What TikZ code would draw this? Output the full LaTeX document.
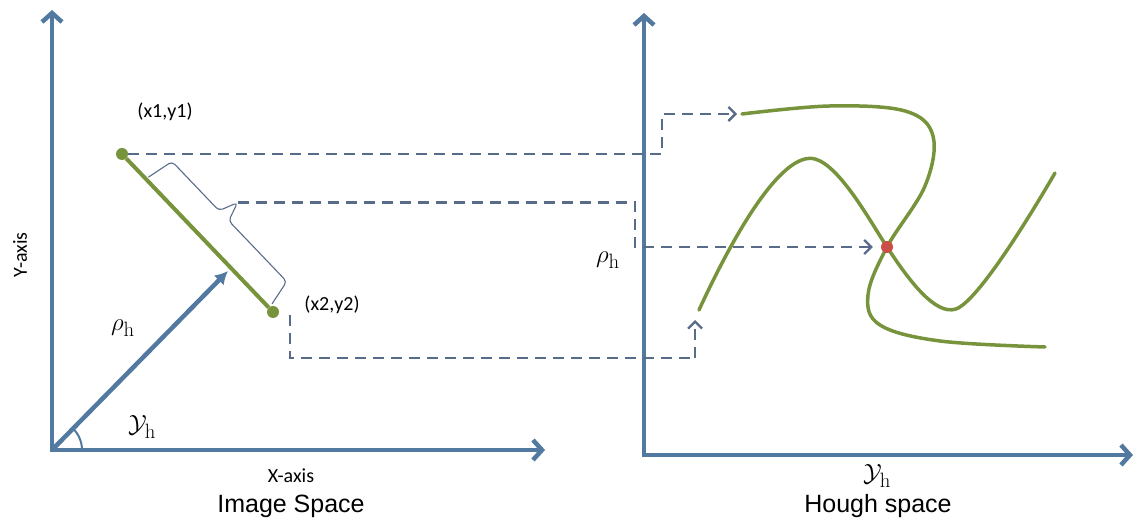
\documentclass[tikz,border=0pt]{standalone}
\usepackage[no-math]{fontspec}
\setmainfont{Carlito}
\newfontfamily\titlefont{Liberation Sans}
\usetikzlibrary{arrows.meta,calc}
\definecolor{axisblue}{RGB}{82,122,160}
\definecolor{curvegreen}{RGB}{119,147,60}
\definecolor{dashblue}{RGB}{88,108,138}
\definecolor{hitred}{RGB}{205,78,70}

\begin{document}
\begin{tikzpicture}[x=1pt,y=1pt,>={Straight Barb[length=9pt,width=20pt]},
  axis/.style={draw=axisblue,line width=4.5pt,<->},
  vec/.style={draw=axisblue,line width=4.5pt,-{Latex[length=13pt,width=14pt]}},
  seg/.style={draw=curvegreen,line width=4pt},
  curve/.style={draw=curvegreen,line width=3.5pt,line cap=round},
  link/.style={draw=dashblue,line width=2.3pt,dash pattern=on 11pt off 7pt},
  linkarr/.style={link,-{Straight Barb[length=7pt,width=14pt]}},
  dot/.style={circle,fill=curvegreen,inner sep=0pt,minimum size=12pt},
  hitdot/.style={dot,fill=hitred},
  lbl/.style={font=\fontsize{20}{24}\selectfont},
  mathlbl/.style={font=\fontsize{24.88}{28}\selectfont},
  title/.style={font=\titlefont\fontsize{25}{30}\selectfont,anchor=base}]
  \useasboundingbox (0,0) rectangle (1135,521);

  % ==========================================
  % IMAGE SPACE (LEFT)
  % ==========================================
  \coordinate (o1) at (52,71);
  \coordinate (ytop1) at (52,511);
  \coordinate (xend1) at (545,71);
  \draw[axis] (ytop1) |- (xend1);

  % normal vector and its angle
  \coordinate (foot) at (228,250);
  \draw[vec] (o1) -- (foot);
  \draw[axisblue,line width=2pt] ($(o1)+(30,0)$) arc[start angle=0,end angle=45,radius=30];

  % the line segment
  \node[dot] (p1) at (122,367) {};
  \node[dot] (p2) at (273,209) {};
  \draw[seg] (p1) -- (p2);

  % brace along the segment
  \begin{scope}[shift={(p1.center)},rotate=-46.3]
      \draw[dashblue,line width=1.1pt,rounded corners=4pt]
        (35,3) -- (40,31) -- (108,31) -- (115,50) coordinate (bracetip)
        -- (122,31) -- (206,31) -- (212,5);
  \end{scope}

  \node[lbl] (p1lbl) at (165,409) {(x1,y1)};
  \node[lbl] (p2lbl) at (332,216) {(x2,y2)};
  \node[mathlbl] (rholeft) at (123,193) {$\rho_\mathrm{h}$};
  \node[mathlbl] (angleft) at (142,94) {$\mathcal{Y}_\mathrm{h}$};
  \node[lbl,rotate=90] (ylbl) at (20,266) {Y-axis};
  \node[lbl,anchor=base] (xlbl) at (291,38) {X-axis};
  \node[title] (imgtitle) at (291,8) {Image Space};

  % ==========================================
  % HOUGH SPACE (RIGHT)
  % ==========================================
  \coordinate (ytop2) at (644,508);
  \coordinate (xend2) at (1133,66);
  \draw[axis] (ytop2) |- (xend2);

  \coordinate (startA) at (742,407);
  \coordinate (startB) at (699,211);
  \draw[curve] plot[smooth,tension=0.6] coordinates {(startA) (830,415) (905,410)
    (933,385) (925,335) (887,274) (868,226) (880,196) (940,180) (1045,174)};
  \draw[curve] (startB) .. controls (740,300) and (785,370) .. (815,362)
    .. controls (840,355) and (870,300) .. (887,274)
    .. controls (908,242) and (935,205) .. (956,212)
    .. controls (978,220) and (1030,305) .. (1055,348);

  \node[hitdot] (hit) at (887,274) {};

  \node[mathlbl] (rhoright) at (608,261) {$\rho_\mathrm{h}$};
  \node[mathlbl,inner sep=1pt] (angright) at (877,45) {$\mathcal{Y}_\mathrm{h}$};
  \node[title] (houghtitle) at (878,8) {Hough space};

  % ==========================================
  % MAPPING LINES
  % ==========================================
  \coordinate (kA) at (662,0);
  \coordinate (kB) at (635,0);
  \coordinate (kC) at (695,163);
  \draw[linkarr,shorten >=5pt] (p1) -- (p1 -| kA) |- (startA);
  \draw[linkarr,shorten >=8pt] (bracetip) -- (bracetip -| kB) |- (hit);
  \draw[link] ([xshift=17pt,yshift=-3pt]p2.center) |- (kC);
  \draw[linkarr,shorten >=10pt] (kC) -- (kC |- startB);

\end{tikzpicture}
\end{document}
